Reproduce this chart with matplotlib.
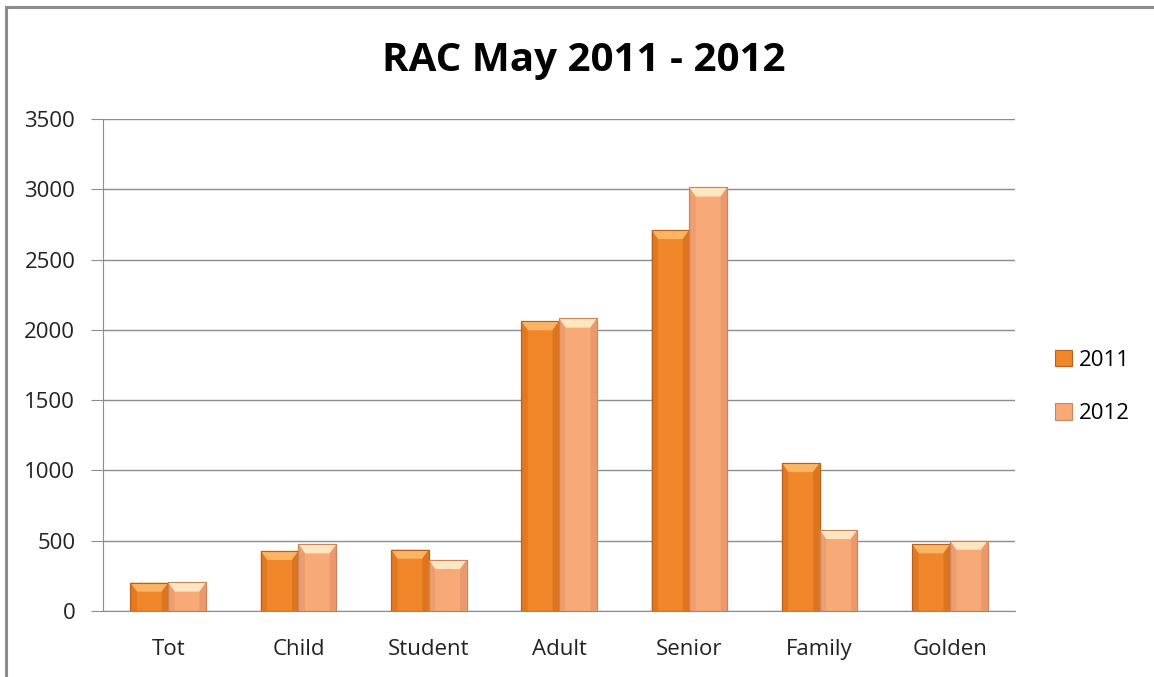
import numpy as np
import matplotlib.pyplot as plt
from matplotlib.patches import Polygon, Rectangle
from matplotlib.lines import Line2D

categorias = ['Tot', 'Child', 'Student', 'Adult', 'Senior', 'Family', 'Golden']
valores_2011 = [202, 428, 437, 2062, 2711, 1053, 475]
valores_2012 = [203, 475, 363, 2081, 3013, 577, 501]

plt.rcParams['font.family'] = ['Open Sans', 'DejaVu Sans']

fig = plt.figure(figsize=(11.54, 6.77), dpi=100)
ax = fig.add_axes([0.0893, 0.0975, 0.7903, 0.7267])

x = np.arange(len(categorias))
ancho = 0.29

# colores: cuerpo, borde, brillo superior, lado oscuro
estilos = {
    '2011': ('#F0862A', '#B8601C', '#FCB565', '#D9701E'),
    '2012': ('#F8A978', '#C88660', '#FEE6C0', '#E8966A'),
}

def dibujar_barras(pos, valores, nombre):
    cuerpo, borde, brillo, lado = estilos[nombre]
    barras = ax.bar(pos, valores, ancho, color=cuerpo, edgecolor=borde,
                    linewidth=0.8, label=nombre, zorder=3)
    # efecto biselado estilo Excel
    bx = 0.05
    by = 65
    for b in barras:
        x0, w, h = b.get_x(), b.get_width(), b.get_height()
        x1 = x0 + w
        ax.add_patch(Polygon([(x0, h), (x1, h), (x1 - bx, h - by), (x0 + bx, h - by)],
                             closed=True, facecolor=brillo, edgecolor='none', zorder=4))
        ax.add_patch(Polygon([(x0, 0), (x0, h), (x0 + bx, h - by), (x0 + bx, 0)],
                             closed=True, facecolor=lado, edgecolor='none', zorder=4, alpha=0.6))
        ax.add_patch(Polygon([(x1, 0), (x1, h), (x1 - bx, h - by), (x1 - bx, 0)],
                             closed=True, facecolor=lado, edgecolor='none', zorder=4, alpha=0.8))
        ax.add_patch(Rectangle((x0, 0), w, h, facecolor='none', edgecolor=borde,
                               linewidth=0.8, zorder=5))
    return barras

dibujar_barras(x - ancho / 2, valores_2011, '2011')
dibujar_barras(x + ancho / 2, valores_2012, '2012')

ax.set_xlim(-0.5, len(categorias) - 0.5)
ax.set_ylim(0, 3500)
ax.set_yticks(np.arange(0, 3501, 500))
ax.set_xticks(x)
ax.set_xticklabels(categorias)
ax.grid(True, axis='y', color='#8C8C8C', linewidth=1.0, zorder=0)
ax.set_axisbelow(True)

for lado in ['top', 'right']:
    ax.spines[lado].set_visible(False)
ax.spines['left'].set_color('#8C8C8C')
ax.spines['bottom'].set_color('#8C8C8C')
ax.tick_params(axis='y', length=9, color='#8C8C8C', labelsize=16, pad=11)
ax.tick_params(axis='x', length=0, labelsize=16, pad=20)
for t in ax.get_yticklabels() + ax.get_xticklabels():
    t.set_color('#222222')

fig.text(0.506, 0.91, 'RAC May 2011 - 2012', ha='center', va='center',
         fontsize=29, fontweight='bold', color='black')

leg = ax.legend(loc='center left', bbox_to_anchor=(1.022, 0.455), frameon=False,
                fontsize=16, handlelength=0.75, handleheight=0.75, labelspacing=1.45,
                handletextpad=0.3)

# borde exterior del gráfico (solo arriba e izquierda, como en la captura)
fig.add_artist(Line2D([0.0055, 0.0055], [0, 0.99], transform=fig.transFigure,
                      color='#8C8C8C', linewidth=2.2))
fig.add_artist(Line2D([0.0055, 1], [0.99, 0.99], transform=fig.transFigure,
                      color='#8C8C8C', linewidth=2.2))

plt.savefig('out.png', dpi=100)
